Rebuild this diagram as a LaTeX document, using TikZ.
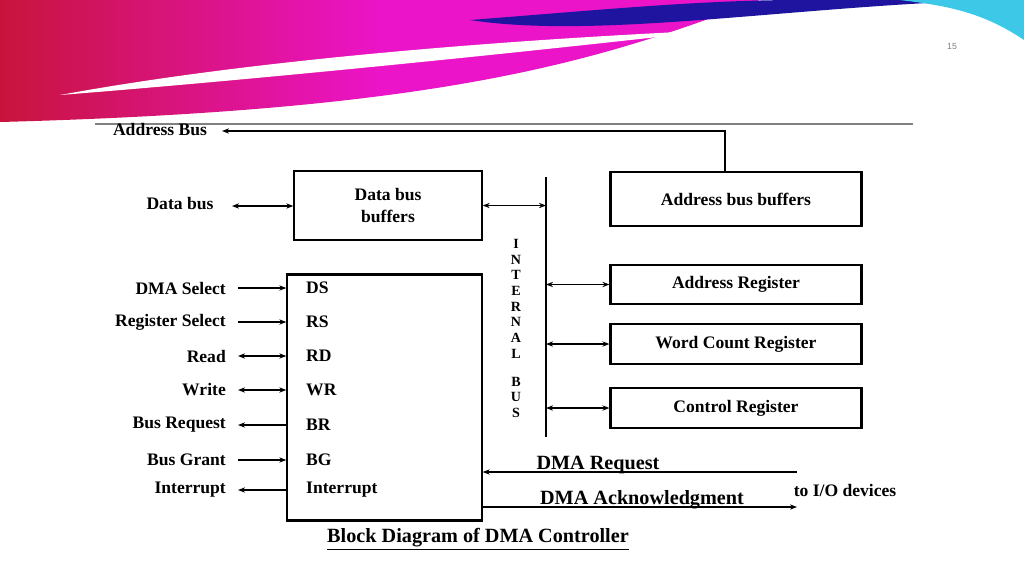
\documentclass[tikz,border=0pt]{standalone}
\usepackage{fontspec}
\setmainfont{Liberation Serif}
\newfontfamily\pgnum{Liberation Sans}
\usetikzlibrary{arrows.meta}
\definecolor{magent}{RGB}{235,20,200}
\definecolor{crimson}{RGB}{200,20,60}
\definecolor{navy}{RGB}{30,20,160}
\definecolor{aqua}{RGB}{60,200,230}
\tikzset{%
    blk/.style={draw, line width=1.2pt},
    lbl/.style={font=\fontsize{10}{12}\selectfont\bfseries},
    big/.style={font=\fontsize{11.5}{13}\selectfont\bfseries},
    ltr/.style={font=\fontsize{8}{8}\selectfont\bfseries, inner sep=0pt},
    sig/.style={line width=0.8pt, >={Stealth[length=4pt,width=3pt]}}
}
\begin{document}
\begin{tikzpicture}[x=0.02cm, y=-0.02cm]
    \useasboundingbox (0,0) rectangle (1024,576);
%-----------------------------------------------
    \shade[left color=crimson, right color=magent, middle color=magent]
        (0,0) -- (760,0) .. controls (600,60) and (450,110) .. (0,122) -- cycle;
    \fill[navy] (470,20) .. controls (600,10) and (700,0) .. (800,0) -- (1000,0)
        .. controls (800,5) and (600,40) .. (470,20) -- cycle;
    \fill[aqua] (900,0) -- (1024,0) -- (1024,40) .. controls (980,10) and (940,5) .. (900,0) -- cycle;
    \fill[white] (60,95) .. controls (250,60) and (500,40) .. (720,30) .. controls (500,55) and (250,80) .. (60,95) -- cycle;
    \node[font=\pgnum\tiny, text=gray] (pg) at (952,47) {15};
%-----------------------------------------------
    \draw[gray, line width=0.6pt] (95,124) -- (913,124);
    \node[blk, minimum width=188*0.567pt, minimum height=69*0.567pt, lbl, align=center] (dbb) at (388,205.5) {Data bus\\buffers};
    \node[blk, minimum width=252*0.567pt, minimum height=54*0.567pt, lbl] (abb) at (736,199) {Address bus buffers};
    \node[blk, minimum width=252*0.567pt, minimum height=39*0.567pt, lbl] (ar) at (736,284.5) {Address Register};
    \node[blk, minimum width=252*0.567pt, minimum height=40*0.567pt, lbl] (wcr) at (736,344) {Word Count Register};
    \node[blk, minimum width=252*0.567pt, minimum height=40*0.567pt, lbl] (cr) at (736,408) {Control Register};
    \node[blk, minimum width=195*0.567pt, minimum height=247*0.567pt] (dma) at (384.5,397.5) {};
%-----------------------------------------------
    \coordinate (bt) at (546,177);
    \coordinate (bb) at (546,437);
    \draw[line width=1.5pt] (bt) -- (bb);
    \foreach \c [count=\i] in {I,N,T,E,R,N,A,L}
        \node[ltr] at (516,228+\i*15.7) {\c};
    \foreach \c [count=\i] in {B,U,S}
        \node[ltr] at (516,366+\i*15.5) {\c};
%-----------------------------------------------
    \node[lbl] (abus) at (160,130) {Address Bus};
    \node[lbl] (dbus) at (180,204) {Data bus};
    \coordinate (abk) at (725,131);
    \coordinate (abe) at (222,131);
    \draw[sig,->] (abb.north -| abk) -- (abk) -- (abe);
    \draw[sig,<->] (232,206) -- (dbb.west |- 0,206);
    \draw[sig,<->] (dbb.east) -- (dbb.east -| bt);
    \draw[sig,<->] (ar.west -| bt) -- (ar.west);
    \draw[sig,<->] (wcr.west -| bt) -- (wcr.west);
    \draw[sig,<->] (cr.west -| bt) -- (cr.west);
%-----------------------------------------------
    \foreach \y/\ext/\int/\arr in {288/DMA Select/DS/->, 322/Register Select/RS/->,
        356/Read/RD/<->, 390/Write/WR/<->, 425/Bus Request/BR/<-,
        460/Bus Grant/BG/->, 490/Interrupt/Interrupt/<-}{
        \node[lbl, anchor=east] (e\y) at (232,\y) {\ext};
        \node[lbl, anchor=west] (i\y) at (300,\y) {\int};
        \draw[sig,\arr] (238,\y) -- (dma.west |- i\y);
    }
%-----------------------------------------------
    \coordinate (rq) at (797,472);
    \coordinate (ak) at (797,507);
    \draw[sig,->] (rq) -- (rq -| dma.east);
    \node[big] (rql) at (598,465) {DMA Request};
    \draw[sig,->] (ak -| dma.east) -- (ak);
    \node[big] (akl) at (642,500) {DMA Acknowledgment};
    \node[lbl] (io) at (845,490) {to I/O devices};
    \node[big] (cap) at (478,539) {\underline{Block Diagram of DMA Controller}};
\end{tikzpicture}
\end{document}
